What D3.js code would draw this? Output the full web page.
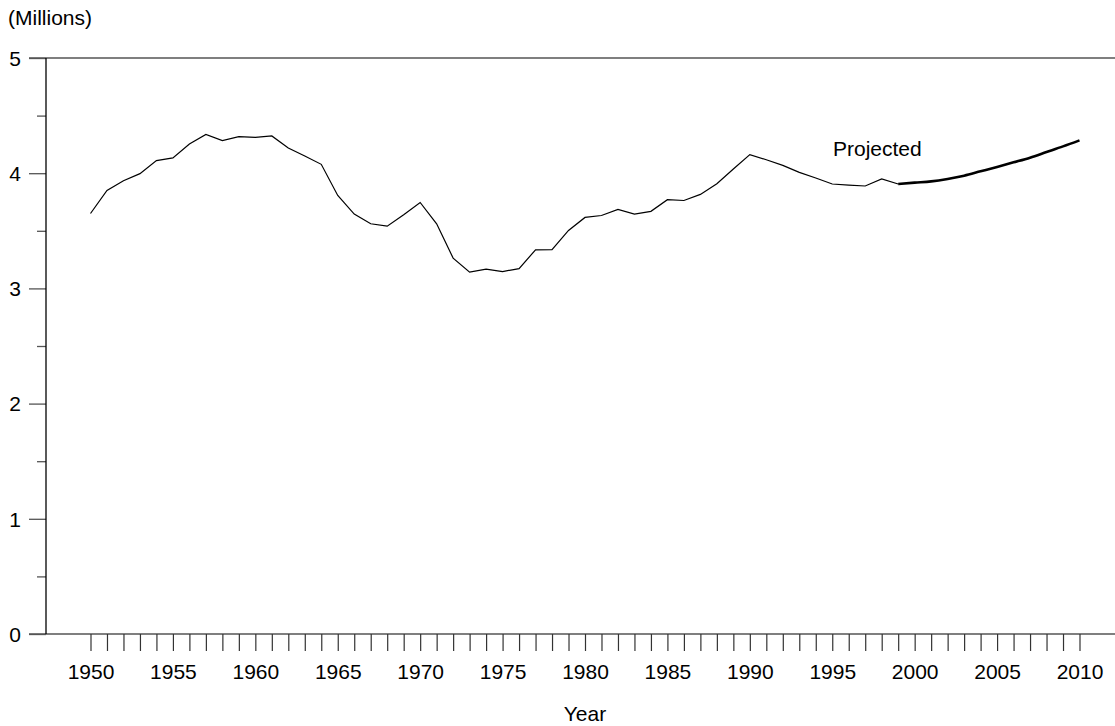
<!DOCTYPE html>
<html>
<head>
<meta charset="utf-8">
<script src="https://cdnjs.cloudflare.com/ajax/libs/d3/7.8.5/d3.min.js"></script>
<style>
  body { margin: 0; background: #fff; }
  text { font-family: "Liberation Sans", Arial, sans-serif; fill: #000; }
</style>
</head>
<body>
<div id="chart"></div>
<script>
// historical series, 1950-1999 (millions)
var histYears = d3.range(1950, 2000)
var histValues = [3.65, 3.85, 3.935, 3.996, 4.109, 4.133, 4.254, 4.337, 4.283, 4.317,
    4.311, 4.323, 4.219, 4.15, 4.077, 3.807, 3.645, 3.561, 3.54, 3.639,
    3.746, 3.561, 3.263, 3.141, 3.167, 3.146, 3.172, 3.335, 3.337, 3.503,
    3.616, 3.633, 3.685, 3.645, 3.669, 3.77, 3.763, 3.816, 3.909, 4.036,
    4.161, 4.117, 4.068, 4.007, 3.958, 3.906, 3.897, 3.889, 3.95, 3.906]

// projected series, 1999-2010
var projYears = d3.range(1999, 2011)
var projValues = [3.906, 3.918, 3.929, 3.95, 3.978, 4.016, 4.054, 4.094, 4.135, 4.184, 4.233, 4.285]

var yMajor = [0, 1, 2, 3, 4, 5]
var yMinor = [0.5, 1.5, 2.5, 3.5, 4.5]
var xLabels = [1950, 1955, 1960, 1965, 1970, 1975, 1980, 1985, 1990, 1995, 2000, 2005, 2010]

var width = 1115
var height = 726
var fontSize = "21px"

var svg = d3.select("#chart")
    .append("svg")
    .attr("width", width)
    .attr("height", height)

var x = d3.scaleLinear().domain([1950, 2010]).range([90.5, 1079.5])
var y = d3.scaleLinear().domain([0, 5]).range([634, 58])

// frame lines top and bottom
svg.append("line")
    .attr("x1", 29).attr("x2", width)
    .attr("y1", y(5)).attr("y2", y(5))
    .attr("stroke", "#555").attr("stroke-width", 1.3)
svg.append("line")
    .attr("x1", 29).attr("x2", width)
    .attr("y1", y(0)).attr("y2", y(0))
    .attr("stroke", "#555").attr("stroke-width", 1.3)

// y axis
var yAxis = d3.axisLeft(y)
    .tickValues(yMajor)
    .tickSize(17)
    .tickPadding(8)
    .tickFormat(d3.format("d"))
var gy = svg.append("g")
    .attr("transform", "translate(46,0)")
    .call(yAxis)
gy.select(".domain").remove()
gy.selectAll(".tick line").attr("stroke", "#555").attr("stroke-width", 1.3)
gy.selectAll(".tick text")
    .style("font-size", fontSize)
    .attr("dy", "0.35em")

var yAxisMinor = d3.axisLeft(y).tickValues(yMinor).tickSize(9).tickFormat("")
var gy2 = svg.append("g")
    .attr("transform", "translate(46,0)")
    .call(yAxisMinor)
gy2.select(".domain").remove()
gy2.selectAll(".tick line").attr("stroke", "#555").attr("stroke-width", 1.3)

svg.append("line")
    .attr("x1", 46).attr("x2", 46)
    .attr("y1", y(5)).attr("y2", y(0))
    .attr("stroke", "#000").attr("stroke-width", 1.3)

// x axis, one tick per year, labels every 5
var xAxis = d3.axisBottom(x)
    .tickValues(d3.range(1950, 2011))
    .tickSize(17)
    .tickPadding(13)
    .tickFormat(function (d) { return xLabels.indexOf(d) >= 0 ? d : "" })
var gx = svg.append("g")
    .attr("transform", "translate(0," + y(0) + ")")
    .call(xAxis)
gx.select(".domain").remove()
gx.selectAll(".tick line").attr("stroke", "#333").attr("stroke-width", 1.2)
gx.selectAll(".tick text").style("font-size", fontSize)

// titles
svg.append("text")
    .attr("x", 8).attr("y", 25)
    .style("font-size", fontSize)
    .text("(Millions)")
svg.append("text")
    .attr("x", 585).attr("y", 721)
    .attr("text-anchor", "middle")
    .style("font-size", fontSize)
    .text("Year")

// lines
var line = d3.line()
    .x(function (d) { return x(d[0]) })
    .y(function (d) { return y(d[1]) })

svg.append("path")
    .datum(d3.zip(histYears, histValues))
    .attr("d", line)
    .attr("fill", "none")
    .attr("stroke", "#000")
    .attr("stroke-width", 1.2)

svg.append("path")
    .datum(d3.zip(projYears, projValues))
    .attr("d", line.curve(d3.curveMonotoneX))
    .attr("fill", "none")
    .attr("stroke", "#000")
    .attr("stroke-width", 2.6)

svg.append("text")
    .attr("x", 833).attr("y", 156)
    .style("font-size", fontSize)
    .text("Projected")
</script>
</body>
</html>
